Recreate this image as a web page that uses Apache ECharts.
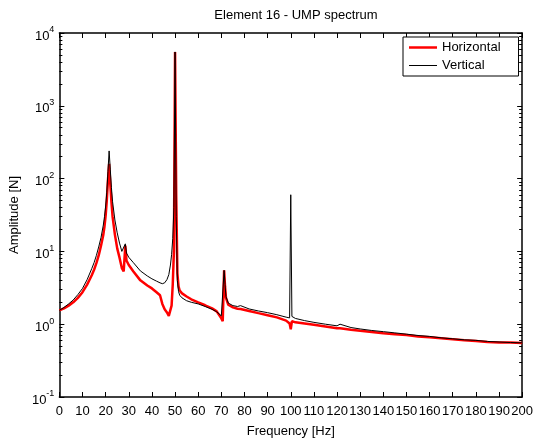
<!DOCTYPE html>
<html>
<head>
<meta charset="utf-8">
<script src="https://cdn.jsdelivr.net/npm/echarts@6/dist/echarts.min.js"></script>
<style>
html,body{margin:0;padding:0;background:#fff;}
#chart{width:536px;height:443px;}
</style>
</head>
<body>
<div id="chart"></div>
<script>
var titleText = 'Element 16 - UMP spectrum';
var xName = 'Frequency [Hz]';
var yName = 'Amplitude [N]';
var seriesNames = ['Horizontal', 'Vertical'];

var freq = [0, 2, 4, 6, 8, 10, 12, 14, 15, 16, 17, 18, 19, 19.5, 20, 20.5, 21, 21.5, 22, 22.5, 23, 24, 25, 26, 27, 27.8, 28.5, 29, 30, 32, 35, 38, 40, 42, 43.5, 44.5, 45.5, 46.5, 47.3, 48, 48.5, 49, 49.5, 50, 50.5, 51, 51.5, 52, 53, 55, 57, 60, 63, 66, 68, 70, 70.6, 71.2, 71.6, 72, 73, 75, 77, 78.3, 79, 82, 86, 90, 94, 98, 99.5, 100, 100.5, 102, 106, 110, 115, 120, 121.3, 122, 126, 130, 135, 140, 145, 150, 155, 160, 165, 170, 175, 180, 185, 190, 195, 200];

var horizontal = [1.55, 1.65, 1.8, 2.0, 2.3, 2.75, 3.5, 4.7, 5.6, 6.9, 8.8, 12, 17, 22, 31, 50, 95, 160, 85, 48, 30, 17, 11, 8.2, 5.9, 5.3, 12, 7.5, 6.5, 5.3, 4.0, 3.4, 3.1, 2.75, 2.5, 1.9, 1.6, 1.45, 1.3, 1.35, 1.8, 3.5, 10, 5500, 60, 5, 3.3, 2.9, 2.65, 2.4, 2.2, 2.0, 1.82, 1.65, 1.5, 1.2, 1.1, 5.5, 3.3, 2.3, 1.85, 1.7, 1.63, 1.62, 1.6, 1.52, 1.42, 1.33, 1.24, 1.12, 1.02, 0.85, 1.1, 1.06, 1.02, 0.98, 0.93, 0.88, 0.88, 0.87, 0.84, 0.81, 0.78, 0.75, 0.73, 0.71, 0.68, 0.66, 0.64, 0.62, 0.6, 0.59, 0.57, 0.56, 0.56, 0.55];

var vertical = [1.55, 1.7, 1.9, 2.15, 2.55, 3.1, 4.1, 5.8, 7.0, 8.8, 11.5, 15.5, 23, 30, 42, 65, 125, 240, 135, 75, 48, 27, 18, 13, 10, 9.5, 12.7, 9.5, 8.3, 7, 5.4, 4.6, 4.2, 3.9, 3.7, 3.6, 3.7, 4.1, 4.8, 6.5, 9, 15, 40, 5500, 30, 4, 2.8, 2.5, 2.3, 2.1, 2.0, 1.9, 1.75, 1.6, 1.48, 1.3, 1.25, 5.5, 3.5, 2.4, 1.95, 1.8, 1.75, 1.8, 1.7, 1.62, 1.52, 1.44, 1.35, 1.25, 1.22, 60, 1.28, 1.2, 1.12, 1.06, 1.0, 0.95, 1.0, 0.94, 0.9, 0.86, 0.82, 0.79, 0.76, 0.73, 0.7, 0.68, 0.65, 0.63, 0.61, 0.6, 0.58, 0.57, 0.56, 0.555];

var xTicks = [0, 10, 20, 30, 40, 50, 60, 70, 80, 90, 100, 110, 120, 130, 140, 150, 160, 170, 180, 190, 200];
var yMajor = [0.1, 1, 10, 100, 1000, 10000];
var yMinor = [0.2,0.3,0.4,0.5,0.6,0.7,0.8,0.9, 2,3,4,5,6,7,8,9, 20,30,40,50,60,70,80,90, 200,300,400,500,600,700,800,900, 2000,3000,4000,5000,6000,7000,8000,9000];

function pairs(xs, ys){ return xs.map(function(x,i){ return [x, ys[i]]; }); }
var minorLog = yMinor.map(function(v){ return Math.log10(v); });

var FONT = '"Liberation Sans", Arial, sans-serif';
var chart = echarts.init(document.getElementById('chart'), null, {renderer:'canvas'});

var axisLineStyle = {color:'#000', width:1.5};

var option = {
  animation:false,
  backgroundColor:'#fff',
  textStyle:{fontFamily:FONT, color:'#000'},
  title:{
    text:titleText, left:291, top:4, textAlign:'center',
    textStyle:{fontFamily:FONT, fontSize:13, fontWeight:'normal', color:'#000'}
  },
  legend:{
    orient:'vertical', left:403, top:37,
    data:[
      {name:seriesNames[0], icon:'path://M0 0H28V2.5H0Z'},
      {name:seriesNames[1], icon:'path://M0 0H28V1H0Z'}
    ],
    backgroundColor:'#fff', borderColor:'#000', borderWidth:1, borderRadius:0,
    padding:[4,18,4,6], itemGap:5, itemWidth:28, itemHeight:14,
    textStyle:{fontFamily:FONT, fontSize:13, color:'#000'}
  },
  grid:{left:56, right:10, top:33, bottom:44, containLabel:false},
  xAxis:[
    {type:'value', min:0, max:200, interval:10, position:'bottom',
     name:xName, nameLocation:'middle', nameGap:28,
     nameTextStyle:{fontFamily:FONT, fontSize:13, color:'#000'},
     axisLine:{show:true, onZero:false, lineStyle:axisLineStyle},
     axisTick:{show:true, inside:true, length:5, lineStyle:{color:'#000', width:1}},
     axisLabel:{show:true, interval:0, hideOverlap:false, margin:8, fontFamily:FONT, fontSize:13, color:'#000',
       customValues:xTicks},
     splitLine:{show:false}},
    {type:'value', min:0, max:200, interval:10, position:'top',
     axisLine:{show:true, onZero:false, lineStyle:axisLineStyle},
     axisTick:{show:true, inside:true, length:5, lineStyle:{color:'#000', width:1}},
     axisLabel:{show:false}, splitLine:{show:false}}
  ],
  yAxis:[
    {type:'log', logBase:10, min:0.1, max:10000, position:'left',
     name:yName, nameLocation:'middle', nameGap:33,
     nameTextStyle:{fontFamily:FONT, fontSize:13, color:'#000'},
     axisLine:{show:true, onZero:false, lineStyle:axisLineStyle},
     axisTick:{show:true, inside:true, length:5, lineStyle:{color:'#000', width:1}},
     axisLabel:{show:true, margin:5, fontFamily:FONT,
       formatter:function(v){ var e=Math.round(Math.log10(v)); return '{b|10}{s|'+e+'}'; },
       rich:{
         b:{fontFamily:FONT, fontSize:13, color:'#000', padding:[6,0,0,0]},
         s:{fontFamily:FONT, fontSize:9, color:'#000', padding:[0,0,6,0]}
       }},
     splitLine:{show:false}},
    {type:'value', min:-1, max:4, position:'left',
     axisLine:{show:false, onZero:false},
     axisTick:{show:true, inside:true, length:3, customValues:minorLog, lineStyle:{color:'#000', width:1}},
     axisLabel:{show:false}, splitLine:{show:false}},
    {type:'log', logBase:10, min:0.1, max:10000, position:'right',
     axisLine:{show:true, onZero:false, lineStyle:axisLineStyle},
     axisTick:{show:true, inside:true, length:5, lineStyle:{color:'#000', width:1}},
     axisLabel:{show:false}, splitLine:{show:false}},
    {type:'value', min:-1, max:4, position:'right',
     axisLine:{show:false, onZero:false},
     axisTick:{show:true, inside:true, length:3, customValues:minorLog, lineStyle:{color:'#000', width:1}},
     axisLabel:{show:false}, splitLine:{show:false}}
  ],
  series:[
    {name:seriesNames[0], type:'line', xAxisIndex:0, yAxisIndex:0,
     data:pairs(freq, horizontal), symbol:'none', showSymbol:false,
     lineStyle:{color:'#ff0000', width:2.5}, itemStyle:{color:'#ff0000'}, z:2},
    {name:seriesNames[1], type:'line', xAxisIndex:0, yAxisIndex:0,
     data:pairs(freq, vertical), symbol:'none', showSymbol:false,
     lineStyle:{color:'#000000', width:1}, itemStyle:{color:'#000000'}, z:3}
  ]
};
chart.setOption(option);
</script>
</body>
</html>
